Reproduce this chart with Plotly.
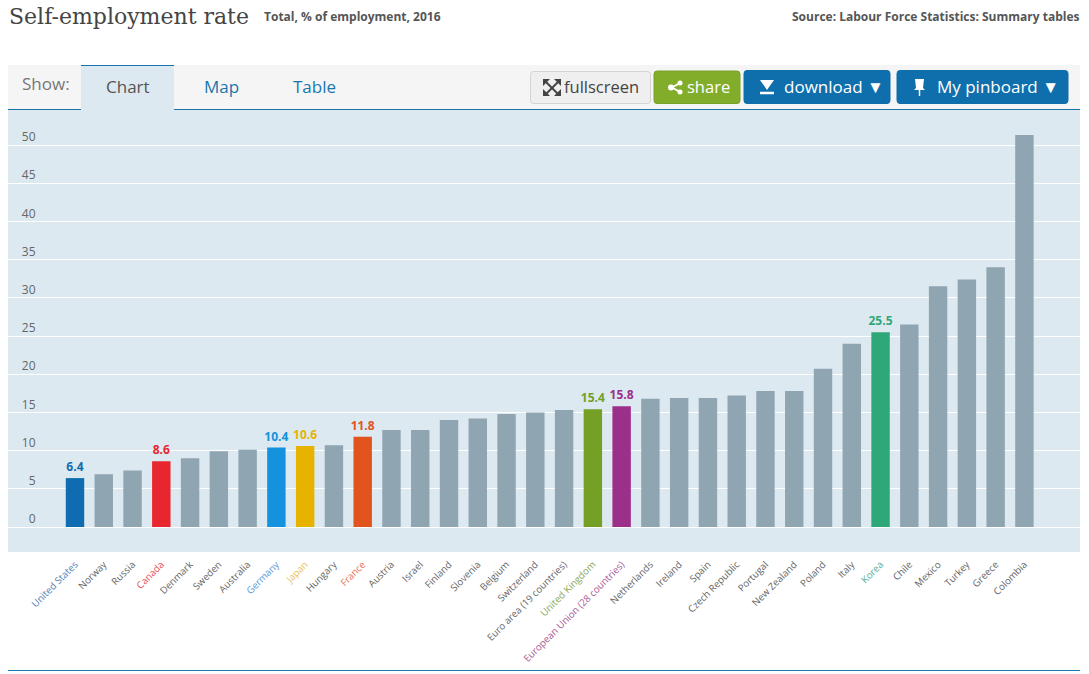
import plotly.graph_objects as go

W, H = 1089, 674

countries = ["United States", "Norway", "Russia", "Canada", "Denmark", "Sweden", "Australia",
             "Germany", "Japan", "Hungary", "France", "Austria", "Israel", "Finland", "Slovenia",
             "Belgium", "Switzerland", "Euro area (19 countries)", "United Kingdom",
             "European Union (28 countries)", "Netherlands", "Ireland", "Spain", "Czech Republic",
             "Portugal", "New Zealand", "Poland", "Italy", "Korea", "Chile", "Mexico", "Turkey",
             "Greece", "Colombia"]
values = [6.4, 6.9, 7.4, 8.6, 9.0, 9.9, 10.1, 10.4, 10.6, 10.7, 11.8, 12.7, 12.7, 14.0, 14.2,
          14.8, 15.0, 15.3, 15.4, 15.8, 16.8, 16.9, 16.9, 17.2, 17.8, 17.8, 20.7, 24.0, 25.5,
          26.5, 31.5, 32.4, 34.0, 51.3]
highlight = {"United States": "#0f6cb0", "Canada": "#e8262f", "Germany": "#1492dd",
             "Japan": "#e6b400", "France": "#e2541d", "United Kingdom": "#73a025",
             "European Union (28 countries)": "#9b2f8a", "Korea": "#2ea878"}
label_tint = {"United States": "#4f7fb8", "Canada": "#e8505a", "Germany": "#5a9bdc",
              "Japan": "#e8c060", "France": "#e8705a", "United Kingdom": "#8aa85a",
              "European Union (28 countries)": "#a85a95", "Korea": "#5aae94"}
y_ticks = [0, 5, 10, 15, 20, 25, 30, 35, 40, 45, 50]
GREY = "#8fa5b1"
BAND = "#dce9f1"
BLUE = "#1a75ad"


def px(x):
    return x / W


def py(y):
    return 1 - y / H


def txt(x, y, s, size=12, color="#555", family="Open Sans", anchor="left", bold=False):
    return dict(xref="paper", yref="paper", x=px(x), y=py(y), text=f"<b>{s}</b>" if bold else s,
                showarrow=False, xanchor=anchor, yanchor="middle",
                font=dict(size=size, color=color, family=family))


def rect(x0, y0, x1, y1, fill, line=None):
    return dict(type="rect", xref="paper", yref="paper", x0=px(x0), x1=px(x1), y0=py(y0), y1=py(y1),
                fillcolor=fill, line=dict(color=line or fill, width=1 if line else 0), layer="below")


def button(x0, y0, x1, y1, fill, line, r=3):
    path = (f"M {px(x0 + r)} {py(y0)} L {px(x1 - r)} {py(y0)} Q {px(x1)} {py(y0)} {px(x1)} {py(y0 + r)} "
            f"L {px(x1)} {py(y1 - r)} Q {px(x1)} {py(y1)} {px(x1 - r)} {py(y1)} "
            f"L {px(x0 + r)} {py(y1)} Q {px(x0)} {py(y1)} {px(x0)} {py(y1 - r)} "
            f"L {px(x0)} {py(y0 + r)} Q {px(x0)} {py(y0)} {px(x0 + r)} {py(y0)} Z")
    return dict(type="path", xref="paper", yref="paper", path=path, fillcolor=fill,
                line=dict(color=line, width=1), layer="below")


def poly(points, fill):
    path = "M " + " L ".join(f"{px(a)} {py(b)}" for a, b in points) + " Z"
    return dict(type="path", xref="paper", yref="paper", path=path, fillcolor=fill,
                line=dict(width=0), layer="above")


def seg(x0, y0, x1, y1, color, width=2):
    return dict(type="line", xref="paper", yref="paper", x0=px(x0), x1=px(x1), y0=py(y0), y1=py(y1),
                line=dict(color=color, width=width), layer="above")


idx = list(range(len(countries)))
ticktext = [f'<span style="color:{label_tint.get(c, "#666")}">{c}</span>' for c in countries]

fig = go.Figure(go.Bar(
    x=idx, y=values, width=0.64,
    marker=dict(color=[highlight.get(c, GREY) for c in countries], line=dict(width=0)),
    text=[f"<b>{v:.1f}</b>" if c in highlight else "" for c, v in zip(countries, values)],
    textposition="outside", textangle=0, cliponaxis=False, constraintext="none",
    textfont=dict(family="Open Sans", size=12, color=[highlight.get(c, GREY) for c in countries]),
    hoverinfo="x+y",
))

shapes = [
    rect(8, 65, 1080, 109, "#f5f5f5"),
    rect(81, 65, 174, 110, BAND),
    seg(81, 65.5, 174, 65.5, BLUE, 1),
    seg(8, 109.5, 81, 109.5, BLUE, 1),
    seg(174, 109.5, 1080, 109.5, BLUE, 1),
    seg(8, 670.5, 1080, 670.5, BLUE, 1),
    button(530.5, 71.5, 650.5, 103.5, "#efefef", "#d4d4d4"),
    button(654, 71, 740, 103.5, "#82ad2b", "#78a228"),
    button(744, 70.5, 890, 103.5, "#0f6fad", "#0f6fad"),
    button(897, 70.5, 1068, 103.5, "#0f6fad", "#0f6fad"),
    # fullscreen icon
    seg(545, 81, 559, 95, "#444", 2), seg(559, 81, 545, 95, "#444", 2),
    poly([(543, 79), (550, 79), (543, 86)], "#444"), poly([(561, 79), (554, 79), (561, 86)], "#444"),
    poly([(543, 96), (550, 96), (543, 89)], "#444"), poly([(561, 96), (554, 96), (561, 89)], "#444"),
    # share icon
    seg(680, 83, 672, 87.5, "#fff", 2), seg(672, 87.5, 680, 92, "#fff", 2),
    dict(type="circle", xref="paper", yref="paper", x0=px(668), x1=px(674), y0=py(84.5), y1=py(90.5),
         fillcolor="#fff", line=dict(width=0)),
    dict(type="circle", xref="paper", yref="paper", x0=px(677.5), x1=px(682.5), y0=py(80.5), y1=py(85.5),
         fillcolor="#fff", line=dict(width=0)),
    dict(type="circle", xref="paper", yref="paper", x0=px(677.5), x1=px(682.5), y0=py(89.5), y1=py(94.5),
         fillcolor="#fff", line=dict(width=0)),
    # download icon
    poly([(760, 80), (774, 80), (767, 90)], "#fff"),
    seg(760, 93, 774, 93, "#fff", 2.5),
    # pin icon
    poly([(915, 79), (924, 79), (923, 88), (925, 90), (914, 90), (916, 88)], "#fff"),
    seg(919.5, 90, 919.5, 96, "#fff", 1.5),
]

annotations = [
    txt(7, 16, "Self-employment rate", 22, "#444", "DejaVu Serif"),
    txt(262, 16, "Total, % of employment, 2016", 12, "#555", bold=True),
    txt(1081, 16, "Source: Labour Force Statistics: Summary tables", 12, "#555", anchor="right", bold=True),
    txt(20, 84, "Show:", 17, "#777"),
    txt(127.5, 87, "Chart", 17, "#555", anchor="center"),
    txt(221, 87, "Map", 17, BLUE, anchor="center"),
    txt(314, 87, "Table", 17, BLUE, anchor="center"),
    txt(562, 87, "fullscreen", 16.5, "#444"),
    txt(685, 87, "share", 16.5, "#fff"),
    txt(782, 87, "download ▼", 17, "#fff"),
    txt(935, 87, "My pinboard ▼", 17, "#fff"),
]

fig.update_layout(
    width=W, height=H, margin=dict(l=0, r=0, t=0, b=0),
    paper_bgcolor="#ffffff", plot_bgcolor=BAND, showlegend=False, bargap=0.36,
    shapes=shapes, annotations=annotations,
    xaxis=dict(domain=[px(8), px(1080)], range=[(8 - 75) / 28.77, (1080 - 75) / 28.77],
               tickmode="array", tickvals=idx, ticktext=ticktext, tickangle=-45,
               tickfont=dict(family="Open Sans", size=9.7, color="#666"),
               showgrid=False, zeroline=False, showline=False, ticks="", automargin=False,
               ticklabelstandoff=4),
    yaxis=dict(domain=[py(552), py(110)], range=[-25 / 7.64, (527 - 110) / 7.64],
               tickmode="array", tickvals=y_ticks, ticktext=[str(t) for t in y_ticks],
               tickfont=dict(family="Open Sans", size=12, color="#666"),
               gridcolor="#ffffff", gridwidth=1, zeroline=True, zerolinecolor="#ffffff", zerolinewidth=1,
               showline=False, ticks="", automargin=False,
               anchor="free", position=(43 - 8) / 1072, ticklabelshift=-8),
)

fig.write_html("out.html", post_script="document.body.style.margin='0';",
               config={"displayModeBar": False})
